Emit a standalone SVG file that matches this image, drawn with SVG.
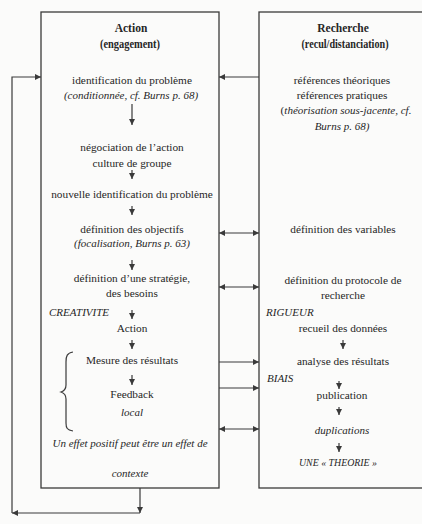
<svg xmlns="http://www.w3.org/2000/svg" width="422" height="524" viewBox="0 0 422 524">
<style>
  .box { fill: none; stroke: #3a3a3a; stroke-width: 1.3; }
  .ln { fill: none; stroke: #3a3a3a; stroke-width: 1.2; }
  text { font-family: "Liberation Serif", "Times New Roman", serif; font-size: 11.3px; fill: #262626; text-anchor: middle; }
  .b { font-weight: bold; font-size: 11.5px; }
  .i { font-style: italic; font-size: 11px; }
  .s { text-anchor: start; }
</style>
<defs>
  <marker id="ah" viewBox="0 0 10 10" refX="10" refY="5" markerWidth="6" markerHeight="6" markerUnits="userSpaceOnUse" orient="auto-start-reverse">
    <path d="M0,0 L10,5 L0,10 z" fill="#3a3a3a"/>
  </marker>
</defs>
<rect width="422" height="524" fill="#fbfbfa"/>

<g id="action">
  <rect class="box" x="41" y="12" width="178" height="476"/>
  <text class="b" x="131" y="32">Action</text>
  <text class="b" x="130" y="48" textLength="60" lengthAdjust="spacingAndGlyphs">(engagement)</text>
</g>
<g id="identification">
  <text x="132" y="84">identification du problème</text>
  <text class="i" x="131" y="99">(conditionnée, cf. Burns p. 68)</text>
</g>
<g id="negociation">
  <text x="132" y="151">négociation de l’action</text>
  <text x="132" y="167">culture de groupe</text>
</g>
<g id="nouvelle">
  <text x="132" y="198">nouvelle identification du problème</text>
</g>
<g id="objectifs">
  <text x="132" y="233">définition des objectifs</text>
  <text class="i" x="132" y="247">(focalisation, Burns p. 63)</text>
</g>
<g id="strategie">
  <text x="132" y="282">définition d’une stratégie,</text>
  <text x="132" y="297">des besoins</text>
</g>
<g id="creativite">
  <text class="i s" x="49" y="316">CREATIVITE</text>
</g>
<g id="action2">
  <text x="132" y="332">Action</text>
</g>
<g id="mesure">
  <text x="132" y="364">Mesure des résultats</text>
</g>
<g id="feedback">
  <text x="132" y="398">Feedback</text>
  <text class="i" x="132" y="416">local</text>
</g>
<g id="effet">
  <text class="i" x="130" y="447">Un effet positif peut être un effet de</text>
  <text class="i" x="130" y="477">contexte</text>
</g>

<g id="recherche">
  <rect class="box" x="259" y="12" width="170" height="476"/>
  <text class="b" x="343" y="32">Recherche</text>
  <text class="b" x="345" y="48" textLength="87" lengthAdjust="spacingAndGlyphs">(recul/distanciation)</text>
</g>
<g id="references">
  <text x="342" y="84">références théoriques</text>
  <text x="342" y="99">références pratiques</text>
  <text x="346" y="114">(<tspan class="i">théorisation sous-jacente, cf.</tspan></text>
  <text class="i" x="342" y="130">Burns p. 68)</text>
</g>
<g id="variables">
  <text x="343" y="233">définition des variables</text>
</g>
<g id="protocole">
  <text x="343" y="284">définition du protocole de</text>
  <text x="343" y="299">recherche</text>
</g>
<g id="rigueur">
  <text class="i s" x="266" y="316">RIGUEUR</text>
</g>
<g id="recueil">
  <text x="343" y="332">recueil des données</text>
</g>
<g id="analyse">
  <text x="343" y="365">analyse des résultats</text>
</g>
<g id="biais">
  <text class="i s" x="267" y="382">BIAIS</text>
</g>
<g id="publication">
  <text x="342" y="399">publication</text>
</g>
<g id="duplications">
  <text class="i" x="342" y="434">duplications</text>
</g>
<g id="theorie">
  <text class="i" x="338" y="466" textLength="78" lengthAdjust="spacingAndGlyphs">UNE « THEORIE »</text>
</g>

<g id="connectors">
  <!-- left column flow -->
  <path class="ln" d="M132,104 V125" marker-end="url(#ah)"/>
  <path class="ln" d="M132,170 V179" marker-end="url(#ah)"/>
  <path class="ln" d="M132,206 V215" marker-end="url(#ah)"/>
  <path class="ln" d="M132,260 V270" marker-end="url(#ah)"/>
  <path class="ln" d="M132,310 V319" marker-end="url(#ah)"/>
  <path class="ln" d="M132,340 V349" marker-end="url(#ah)"/>
  <path class="ln" d="M132,375 V385" marker-end="url(#ah)"/>
  <!-- brace -->
  <path class="ln" d="M73,352 C67,353 66,356 66,362 L66,385 C66,389 64,391 61,392 C64,393 66,395 66,399 L66,423 C66,428 67,430 73,431"/>
  <!-- right column flow -->
  <path class="ln" d="M343,340 V349" marker-end="url(#ah)"/>
  <path class="ln" d="M339,381 V389" marker-end="url(#ah)"/>
  <path class="ln" d="M339,407 V415" marker-end="url(#ah)"/>
  <path class="ln" d="M339,443 V452" marker-end="url(#ah)"/>
  <!-- between boxes -->
  <path class="ln" d="M259,77 H219" marker-end="url(#ah)"/>
  <path class="ln" d="M219,233 H259" marker-start="url(#ah)" marker-end="url(#ah)"/>
  <path class="ln" d="M219,287 H259" marker-start="url(#ah)" marker-end="url(#ah)"/>
  <path class="ln" d="M219,362 H259" marker-end="url(#ah)"/>
  <path class="ln" d="M219,388 H259" marker-end="url(#ah)"/>
  <path class="ln" d="M219,429 H259" marker-start="url(#ah)" marker-end="url(#ah)"/>
  <!-- feedback loop -->
  <path class="ln" d="M140,488 V513" marker-end="url(#ah)"/>
  <path class="ln" d="M140,513 H12" marker-end="url(#ah)"/>
  <path class="ln" d="M12,513 V77 H41" marker-end="url(#ah)"/>
</g>
</svg>
